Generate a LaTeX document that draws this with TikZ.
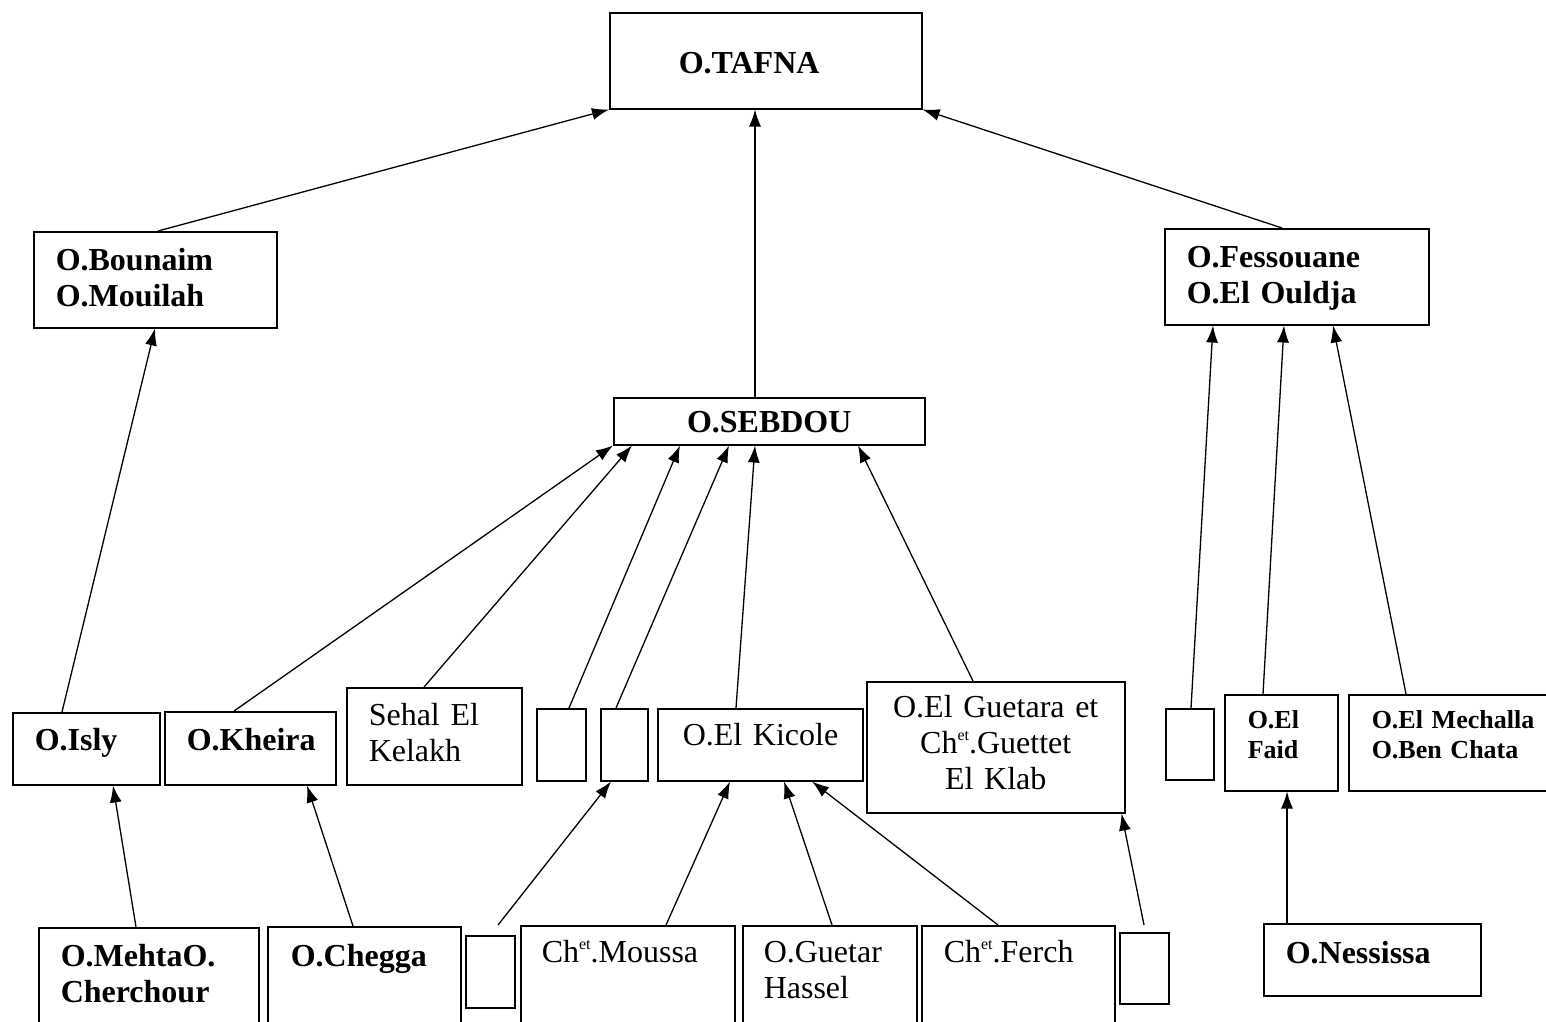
\documentclass[tikz,border=0pt]{standalone}
\usepackage{fontspec}
\setmainfont{Liberation Serif}
\usetikzlibrary{arrows.meta}
\hyphenpenalty=10000
\newcommand\chet{Ch\raisebox{13pt}{\fontsize{16}{16}\selectfont et}}
\tikzset{
	box/.style={draw, line width=1.5pt, anchor=north west, inner ysep=0pt, align=left,
			font=\fontsize{32}{36}\selectfont},
	bbox/.style={box, font=\fontsize{32}{36}\selectfont\bfseries},
	sbox/.style={box, font=\fontsize{26}{30}\selectfont\bfseries},
	blank/.style 2 args={draw, line width=1.5pt, anchor=north west, inner sep=0pt,
			minimum width=#1, minimum height=#2},
	cell/.style n args={4}{inner xsep=#1, text width=#2, text height=#3, text depth=#4},
	feed/.style={-{Latex[length=17pt,width=12pt]}, line width=1.3pt}
}

\begin{document}
\begin{tikzpicture}[x=1pt, y=-1pt]
	\useasboundingbox (0,0) rectangle (1546,1021);

	% top levels
	\node[bbox, cell={69pt}{174pt}{61pt}{35pt}] (tafna) at (609,12) {O.TAFNA};
	\node[bbox, cell={22pt}{199pt}{39pt}{57pt}] (bounaim) at (33,231) {O.Bounaim\\O.Mouilah};
	\node[bbox, cell={22pt}{220pt}{39pt}{57pt}] (fess) at (1164,228) {O.Fessouane\\O.El~Ouldja};
	\node[bbox, align=center, cell={10pt}{291pt}{35pt}{12pt}] (sebdou) at (613,397) {O.SEBDOU};

	% middle row
	\node[bbox, cell={22pt}{103pt}{38pt}{34pt}] (isly) at (12,712) {O.Isly};
	\node[bbox, cell={22pt}{127pt}{39pt}{34pt}] (kheira) at (164,711) {O.Kheira};
	\node[box, cell={22pt}{131pt}{38pt}{59pt}] (sehal) at (346,687) {Sehal El\\Kelakh};
	\node[blank={49pt}{72pt}] (e1) at (536,708) {};
	\node[blank={47pt}{72pt}] (e2) at (600,708) {};
	\node[box, cell={25pt}{155pt}{37pt}{35pt}] (kicole) at (657,708) {O.El~Kicole};
	\node[box, align=center, cell={10pt}{238pt}{36pt}{95pt}] (guetara) at (866,681)
		{O.El Guetara et\\\chet.Guettet\\El Klab};
	\node[blank={48pt}{71pt}] (e3) at (1165,708) {};
	\node[sbox, cell={23pt}{67pt}{34pt}{62pt}] (faid) at (1224,694) {O.El\\Faid};
	\node[sbox, cell={23pt}{166pt}{34pt}{62pt}] (mech) at (1348,694) {O.El~Mechalla\\O.Ben~Chata};

	% bottom row
	\node[bbox, cell={22pt}{176pt}{39pt}{74pt}] (mehta) at (38,927) {O.MehtaO.\\Cherchour};
	\node[bbox, cell={23pt}{147pt}{40pt}{74pt}] (chegga) at (267,926) {O.Chegga};
	\node[blank={49pt}{72pt}] (e4) at (465,935) {};
	\node[box, cell={21pt}{172pt}{37pt}{78pt}] (moussa) at (520,925) {\chet.Moussa};
	\node[box, cell={21pt}{132pt}{37pt}{78pt}] (guetar) at (742,925) {O.Guetar\\Hassel};
	\node[box, cell={22pt}{149pt}{37pt}{78pt}] (ferch) at (921,925) {\chet.Ferch};
	\node[blank={49pt}{71pt}] (e5) at (1119,932) {};
	\node[bbox, cell={22pt}{173pt}{40pt}{32pt}] (ness) at (1263,923) {O.Nessissa};

	% into O.TAFNA
	\draw[feed] ([xshift=125pt]bounaim.north west) -- (tafna.south west);
	\draw[feed] ([xshift=142pt]sebdou.north west) -- ([xshift=146pt]tafna.south west);
	\draw[feed] ([xshift=118pt]fess.north west) -- (tafna.south east);

	% into O.Bounaim and O.Fessouane
	\draw[feed] ([xshift=50pt]isly.north west) -- ([xshift=122pt]bounaim.south west);
	\draw[feed] ([xshift=26pt]e3.north west) -- ([xshift=49pt]fess.south west);
	\draw[feed] ([xshift=39pt]faid.north west) -- ([xshift=120pt]fess.south west);
	\draw[feed] ([xshift=58pt]mech.north west) -- ([xshift=169pt]fess.south west);

	% into O.SEBDOU
	\draw[feed] ([xshift=70pt]kheira.north west) -- (sebdou.south west);
	\draw[feed] ([xshift=78pt]sehal.north west) -- ([xshift=19pt]sebdou.south west);
	\draw[feed] ([xshift=33pt]e1.north west) -- ([xshift=67pt]sebdou.south west);
	\draw[feed] ([xshift=16pt]e2.north west) -- ([xshift=116pt]sebdou.south west);
	\draw[feed] ([xshift=79pt]kicole.north west) -- ([xshift=142pt]sebdou.south west);
	\draw[feed] ([xshift=107pt]guetara.north west) -- ([xshift=245pt]sebdou.south west);

	% from the bottom row
	\draw[feed] ([xshift=98pt]mehta.north west) -- ([xshift=101pt]isly.south west);
	\draw[feed] ([xshift=86pt]chegga.north west) -- ([xshift=143pt]kheira.south west);
	\draw[feed] ([xshift=33pt, yshift=10pt]e4.north west) -- ([xshift=11pt]e2.south west);
	\draw[feed] ([xshift=146pt]moussa.north west) -- ([xshift=73pt]kicole.south west);
	\draw[feed] ([xshift=90pt]guetar.north west) -- ([xshift=127pt]kicole.south west);
	\draw[feed] ([xshift=77pt]ferch.north west) -- ([xshift=155pt]kicole.south west);
	\draw[feed] ([xshift=25pt, yshift=7pt]e5.north west) -- ([xshift=-4pt]guetara.south east);
	\draw[feed] ([xshift=24pt]ness.north west) -- ([xshift=63pt]faid.south west);

\end{tikzpicture}
\end{document}
